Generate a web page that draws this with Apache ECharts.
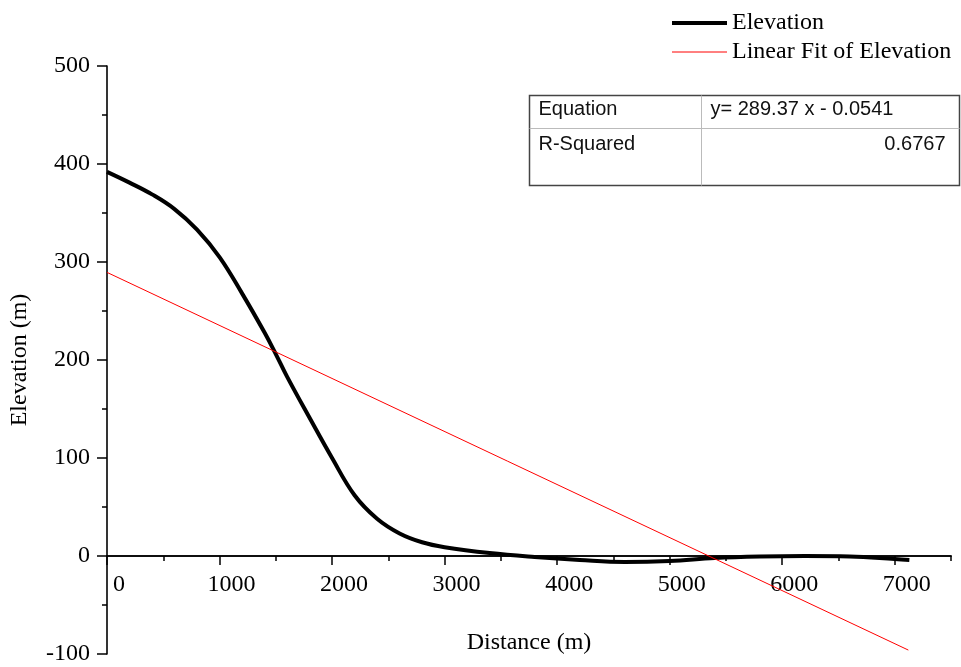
<!DOCTYPE html>
<html>
<head>
<meta charset="utf-8">
<script src="https://cdn.jsdelivr.net/npm/echarts@6/dist/echarts.min.js"></script>
<style>html,body{margin:0;padding:0;background:#fff}#c{width:961px;height:667px}</style>
</head>
<body>
<div id="c"></div>
<script>
// ---- data ----
const elevationDist = [0,200,400,600,800,1000,1200,1400,1500,1600,1800,2000,2200,2400,2600,2800,3000,3400,3800,4200,4600,5000,5400,5800,6200,6600,7000,7130];
const elevationVals = [392,381,369,354,333,305,268,228,206,183,141,100,62,38,23,14,9,3,-1,-4,-6,-5,-2,-0.5,0,-0.5,-3,-4];
const fitDist = [0, 7121];
const fitVals = [289.4, -96];
const xMajorTicks = [0,1000,2000,3000,4000,5000,6000,7000];
const xMinorTicks = [500,1500,2500,3500,4500,5500,6500,7500];
const tableRows = [["Equation","y= 289.37 x - 0.0541"],["R-Squared","0.6767"]];
const seriesNames = ["Elevation","Linear Fit of Elevation"];
const xTitle = "Distance (m)", yTitle = "Elevation (m)";

const serif = "'Liberation Serif','Times New Roman',serif";
const sans = "'Liberation Sans',Arial,sans-serif";
const chart = echarts.init(document.getElementById('c'));
const pair = (xs, ys) => xs.map((x, i) => [x, ys[i]]);
const ZERO_OFFSET = -98; // x axis drawn at elevation 0

chart.setOption({
  animation: false,
  backgroundColor: '#fff',
  grid: { left: 107, right: 10, top: 66, bottom: 13, outerBoundsMode: 'none', containLabel: false },
  legend: {
    orient: 'vertical', left: 670, top: 11, padding: 0, itemWidth: 55, itemHeight: 14, itemGap: 5,
    textStyle: { fontFamily: serif, fontSize: 24, color: '#000', lineHeight: 24 },
    itemStyle: { opacity: 0 },
    data: [
      { name: seriesNames[0], lineStyle: { width: 4, color: '#000' } },
      { name: seriesNames[1], lineStyle: { width: 1, color: '#ff0000' } }
    ]
  },
  xAxis: [{
    type: 'value', min: 0, max: 7500, interval: 500, position: 'bottom', offset: ZERO_OFFSET,
    name: xTitle, nameLocation: 'middle', nameGap: 75,
    nameTextStyle: { fontFamily: serif, fontSize: 24, color: '#000' },
    axisLine: { onZero: false, lineStyle: { color: '#000', width: 1.6 } },
    axisTick: { customValues: xMajorTicks, length: 9, lineStyle: { color: '#000', width: 1.5 } },
    axisLabel: { customValues: xMajorTicks, formatter: v => String(v), fontFamily: serif, fontSize: 24, color: '#000', margin: 17, padding: [0,0,0,24] },
    splitLine: { show: false }
  }, {
    type: 'value', min: 0, max: 7500, interval: 500, position: 'bottom', offset: ZERO_OFFSET,
    axisLine: { onZero: false, lineStyle: { color: '#000', width: 1.6 } },
    axisTick: { customValues: xMinorTicks, length: 5, lineStyle: { color: '#000', width: 1.5 } },
    axisLabel: { show: false },
    splitLine: { show: false }
  }],
  yAxis: {
    type: 'value', min: -100, max: 500, interval: 100,
    name: yTitle, nameLocation: 'middle', nameGap: 75,
    nameTextStyle: { fontFamily: serif, fontSize: 24, color: '#000' },
    axisLine: { show: true, onZero: false, lineStyle: { color: '#000', width: 1.6 } },
    axisTick: { show: true, length: 10, lineStyle: { color: '#000', width: 1.5 } },
    minorTick: { show: true, splitNumber: 2, length: 5, lineStyle: { color: '#000', width: 1.5 } },
    axisLabel: { fontFamily: serif, fontSize: 24, color: '#000', margin: 17 },
    splitLine: { show: false }
  },
  series: [{
    name: seriesNames[0], type: 'line', smooth: 0.4, symbol: 'none',
    lineStyle: { color: '#000', width: 4 }, itemStyle: { color: '#000' },
    data: pair(elevationDist, elevationVals), z: 3
  }, {
    name: seriesNames[1], type: 'line', symbol: 'none',
    lineStyle: { color: '#ff0000', width: 1 }, itemStyle: { color: '#ff0000' },
    data: pair(fitDist, fitVals), z: 4
  }],
  graphic: [{
    type: 'group', left: 527, top: 93,
    children: [
      { type: 'rect', shape: { x: 0, y: 0, width: 430, height: 90 }, style: { fill: '#fff', stroke: '#444', lineWidth: 1.5 } },
      { type: 'line', shape: { x1: 172, y1: 0, x2: 172, y2: 90 }, style: { stroke: '#bbb', lineWidth: 1 } },
      { type: 'line', shape: { x1: 0, y1: 33, x2: 430, y2: 33 }, style: { stroke: '#bbb', lineWidth: 1 } },
      { type: 'text', x: 9, y: 14, style: { text: tableRows[0][0], font: '20px ' + sans, fill: '#111', verticalAlign: 'middle' } },
      { type: 'text', x: 181, y: 14, style: { text: tableRows[0][1], font: '20px ' + sans, fill: '#111', verticalAlign: 'middle' } },
      { type: 'text', x: 9, y: 49, style: { text: tableRows[1][0], font: '20px ' + sans, fill: '#111', verticalAlign: 'middle' } },
      { type: 'text', x: 416, y: 49, style: { text: tableRows[1][1], font: '20px ' + sans, fill: '#111', verticalAlign: 'middle', align: 'right' } }
    ]
  }]
});
</script>
</body>
</html>
